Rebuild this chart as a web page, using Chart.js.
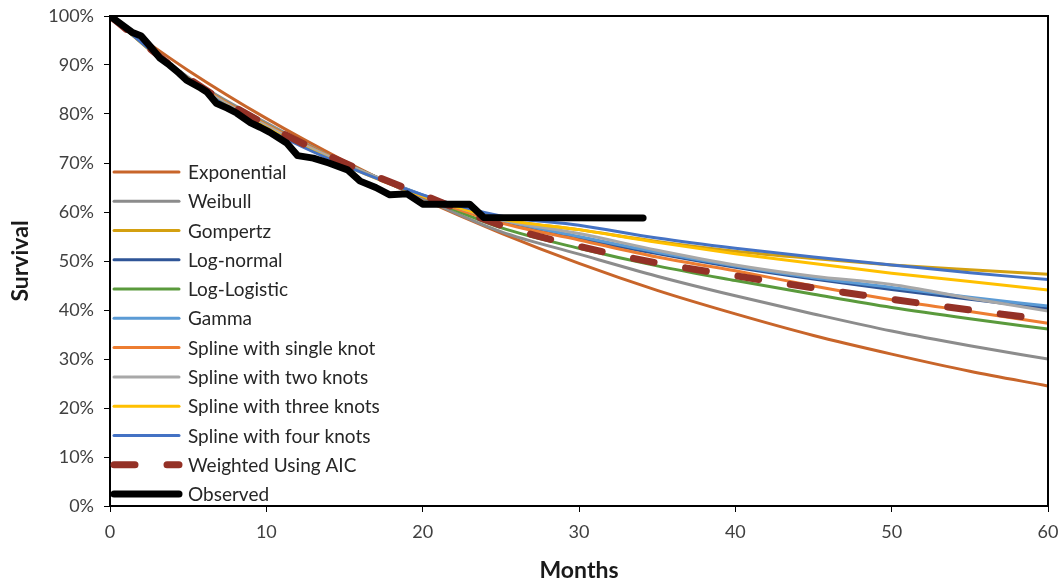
<!DOCTYPE html>
<html>
<head>
<meta charset="utf-8">
<script src="https://cdn.jsdelivr.net/npm/chart.js@4.4.0/dist/chart.umd.min.js"></script>
<style>
  html, body { margin: 0; padding: 0; background: #fff; }
  #wrap { width: 1064px; height: 587px; }
</style>
</head>
<body>
<div id="wrap"><canvas id="chart1"></canvas></div>
<script>
// model curves sampled every 5 months
var months = [0, 5, 10, 15, 20, 25, 30, 35, 40, 45, 50, 55, 60];

var exponential   = [100, 88.9, 79.1, 70.4, 62.6, 55.7, 49.5, 44.0, 39.2, 34.8, 31.0, 27.5, 24.5];
var weibull       = [100, 87.5, 78.2, 70.0, 62.8, 56.0, 51.4, 46.9, 42.9, 39.2, 35.7, 32.7, 30.0];
var gompertz      = [100, 87.0, 77.8, 69.8, 63.4, 58.6, 56.4, 54.0, 52.0, 50.5, 49.2, 48.2, 47.3];
var logNormal     = [100, 87.2, 77.6, 69.9, 63.4, 58.2, 54.6, 51.5, 48.7, 46.3, 44.2, 42.2, 40.3];
var logLogistic   = [100, 87.2, 77.8, 70.0, 63.2, 56.8, 52.6, 49.0, 46.0, 43.2, 40.5, 38.2, 36.1];
var gamma         = [100, 87.0, 77.5, 69.8, 63.5, 58.4, 55.0, 51.8, 49.0, 46.6, 44.6, 42.6, 40.8];
var splineOne     = [100, 87.2, 77.8, 70.0, 63.2, 57.8, 54.3, 50.8, 48.0, 44.9, 42.1, 39.7, 37.3];
var splineTwo     = [100, 87.0, 77.6, 69.9, 63.4, 58.4, 55.6, 52.2, 49.2, 46.9, 45.2, 42.4, 39.8];
var splineThree   = [100, 86.7, 77.2, 69.5, 63.3, 58.6, 56.4, 53.8, 51.5, 49.5, 47.5, 45.8, 44.1];
var splineFour    = [100, 86.8, 77.0, 69.5, 63.5, 59.2, 57.3, 54.7, 52.6, 50.8, 49.2, 47.6, 46.2];
var weightedAIC   = [100, 87.3, 77.8, 70.0, 63.5, 57.3, 53.0, 49.6, 47.0, 44.5, 42.2, 40.0, 38.0];

// Kaplan-Meier observed survival
var obsMonths   = [0, 1.4, 2, 2.6, 3.2, 3.8, 4.4, 4.9, 5.8, 6.2, 6.8, 7.5, 8.1, 9, 9.6, 10.2, 11.3, 12, 13, 14, 15.2, 16, 17, 17.9, 19, 20, 23, 23.9, 34.1];
var obsSurvival = [100, 96.7, 95.9, 93.7, 91.4, 90, 88.4, 86.9, 85.3, 84.5, 82.2, 81.2, 80.2, 78.2, 77.3, 76.3, 74.1, 71.5, 71, 70, 68.6, 66.3, 65, 63.5, 63.7, 61.6, 61.6, 58.9, 58.8];

var yTicks = [0, 10, 20, 30, 40, 50, 60, 70, 80, 90, 100];
var xTicks = [0, 10, 20, 30, 40, 50, 60];

var labels = ['Exponential', 'Weibull', 'Gompertz', 'Log-normal', 'Log-Logistic', 'Gamma',
  'Spline with single knot', 'Spline with two knots', 'Spline with three knots',
  'Spline with four knots', 'Weighted Using AIC', 'Observed'];
var series = [exponential, weibull, gompertz, logNormal, logLogistic, gamma,
  splineOne, splineTwo, splineThree, splineFour, weightedAIC];
var colors = ['#C8652A', '#8C8C8C', '#D4A010', '#2F5597', '#5A9A3C', '#5B9BD5',
  '#ED7D31', '#A8A8A8', '#FFC000', '#4472C4', '#943126', '#000000'];

function pts(xs, ys) {
  return xs.map(function(x, i) { return { x: x, y: ys[i] }; });
}

var datasets = series.map(function(s, i) {
  return {
    label: labels[i],
    data: pts(months, s),
    borderColor: colors[i],
    borderWidth: 3,
    pointRadius: 0,
    cubicInterpolationMode: 'monotone',
    borderCapStyle: 'round',
    order: labels.length - 1 - i
  };
});
// weighted model is thick and dashed
datasets[10].borderWidth = 7;
datasets[10].borderDash = [21, 32];

datasets.push({
  label: labels[11],
  data: pts(obsMonths, obsSurvival),
  borderColor: colors[11],
  borderWidth: 7,
  pointRadius: 0,
  tension: 0,
  borderCapStyle: 'round',
  borderJoinStyle: 'round',
  order: 0
});

var FONT = 'Lato';

// frame round the plot and the in-plot legend
var framePlugin = {
  id: 'frame',
  afterDraw: function(chart) {
    var c = chart.ctx, a = chart.chartArea;
    c.save();
    c.strokeStyle = '#000';
    c.lineWidth = 2;
    c.strokeRect(a.left, a.top, a.right - a.left, a.bottom - a.top);

    var y0 = 172, step = 29.27;
    c.font = '19px ' + FONT;
    c.textBaseline = 'middle';
    chart.data.datasets.forEach(function(ds, i) {
      var y = y0 + i * step;
      c.beginPath();
      c.strokeStyle = ds.borderColor;
      c.lineWidth = ds.borderWidth;
      c.lineCap = 'round';
      c.setLineDash(ds.borderDash || []);
      c.moveTo(114, y);
      c.lineTo(179, y);
      c.stroke();
      c.setLineDash([]);
      c.fillStyle = '#262626';
      c.fillText(ds.label, 188, y + 1);
    });
    c.restore();
  }
};

var ctx = document.getElementById('chart1').getContext('2d');
var myChart = new Chart(ctx, {
  type: 'line',
  data: { datasets: datasets },
  options: {
    responsive: true,
    maintainAspectRatio: false,
    animation: false,
    layout: { padding: { left: 0, right: 16, top: 16, bottom: 0 } },
    plugins: {
      legend: { display: false },
      tooltip: { enabled: false }
    },
    scales: {
      x: {
        type: 'linear',
        min: 0,
        max: 60,
        afterBuildTicks: function(s) { s.ticks = xTicks.map(function(v) { return { value: v }; }); },
        afterFit: function(s) { s.height = 81; s.paddingLeft = 0; s.paddingRight = 0; },
        ticks: { color: '#404040', font: { family: FONT, size: 18 }, padding: 9, maxRotation: 0 },
        grid: { display: true, drawOnChartArea: false, drawTicks: true, tickLength: 6, color: '#000' },
        border: { display: true, color: '#000', width: 2 },
        title: {
          display: true,
          text: 'Months',
          color: '#1a1a1a',
          font: { family: FONT, size: 23, weight: 'bold' },
          padding: { top: 0, bottom: 3 }
        }
      },
      y: {
        min: 0,
        max: 100,
        afterBuildTicks: function(s) { s.ticks = yTicks.map(function(v) { return { value: v }; }); },
        afterFit: function(s) { s.width = 110; s.paddingTop = 0; s.paddingBottom = 0; },
        ticks: {
          color: '#404040',
          font: { family: FONT, size: 18 },
          padding: 10,
          callback: function(v) { return v + '%'; }
        },
        grid: { display: true, drawOnChartArea: false, drawTicks: true, tickLength: 6, color: '#000' },
        border: { display: true, color: '#000', width: 2 },
        title: {
          display: true,
          text: 'Survival',
          color: '#1a1a1a',
          font: { family: FONT, size: 23, weight: 'bold' },
          padding: { top: 7, bottom: 0 }
        }
      }
    }
  },
  plugins: [framePlugin]
});
</script>
</body>
</html>
